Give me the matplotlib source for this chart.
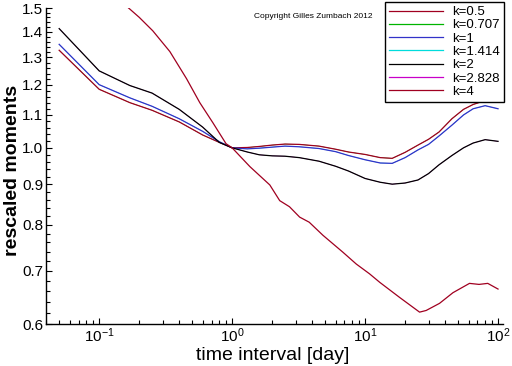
import matplotlib
matplotlib.use("Agg")
import matplotlib.pyplot as plt
from matplotlib.ticker import FixedLocator, FormatStrFormatter, LogLocator, NullFormatter
from matplotlib.lines import Line2D
import numpy as np

plt.rcParams['font.family'] = ['Liberation Sans', 'DejaVu Sans']
plt.rcParams['mathtext.fontset'] = 'custom'
plt.rcParams['mathtext.rm'] = 'Liberation Sans'
plt.rcParams['mathtext.default'] = 'regular'

# ---- data ----
x_days = [0.05, 0.1, 0.17, 0.25, 0.4, 0.6, 0.8, 1.0, 1.3, 1.6, 2.0, 2.5, 3.2, 4.5,
          6.0, 7.5, 10, 13, 16, 20, 25, 30, 36, 45, 55, 65, 80, 100]
k05 = [1.327, 1.185, 1.140, 1.115, 1.078, 1.038, 1.016, 1.000, 1.001, 1.004, 1.008, 1.011,
       1.010, 1.005, 0.996, 0.988, 0.981, 0.972, 0.970, 0.987, 1.008, 1.025, 1.047, 1.088,
       1.118, 1.134, 1.147, 1.146]
k0707 = [1.327, 1.185, 1.140, 1.115, 1.078, 1.038, 1.016, 1.000, 1.001, 1.004, 1.008, 1.011,
         1.010, 1.005, 0.996, 0.988, 0.981, 0.972, 0.970, 0.987, 1.008, 1.025, 1.047, 1.088,
         1.118, 1.134, 1.147, 1.146]
k1 = [1.350, 1.201, 1.156, 1.128, 1.088, 1.049, 1.018, 1.000, 0.997, 0.999, 1.002, 1.005,
      1.003, 0.998, 0.989, 0.978, 0.966, 0.957, 0.956, 0.972, 0.994, 1.010, 1.035, 1.068,
      1.100, 1.120, 1.130, 1.120]
k1414 = [1.350, 1.201, 1.156, 1.128, 1.088, 1.049, 1.018, 1.000, 0.997, 0.999, 1.002, 1.005,
         1.003, 0.998, 0.989, 0.978, 0.966, 0.957, 0.956, 0.972, 0.994, 1.010, 1.035, 1.068,
         1.100, 1.120, 1.130, 1.120]
k2 = [1.413, 1.250, 1.198, 1.172, 1.118, 1.062, 1.016, 1.000, 0.988, 0.980, 0.977, 0.976,
      0.972, 0.962, 0.948, 0.935, 0.915, 0.905, 0.900, 0.903, 0.911, 0.928, 0.952, 0.978,
      1.000, 1.014, 1.024, 1.019]
k2828 = [1.413, 1.250, 1.198, 1.172, 1.118, 1.062, 1.016, 1.000, 0.988, 0.980, 0.977, 0.976,
         0.972, 0.962, 0.948, 0.935, 0.915, 0.905, 0.900, 0.903, 0.911, 0.928, 0.952, 0.978,
         1.000, 1.014, 1.024, 1.019]
x_k4 = [0.05, 0.1, 0.159, 0.2, 0.253, 0.34, 0.454, 0.571, 0.715, 0.9, 1.0, 1.36, 1.92, 2.28, 2.7,
        3.22, 3.8, 4.82, 6.8, 8.58, 10.8, 12.9, 18.2, 25.7, 28.8, 36.3, 45.8, 61, 72, 83.7, 100]
k4 = [1.81, 1.62, 1.51, 1.46, 1.404, 1.322, 1.222, 1.140, 1.076, 1.012, 1.000, 0.947, 0.898, 0.858,
      0.843, 0.818, 0.806, 0.776, 0.739, 0.714, 0.694, 0.677, 0.648, 0.621, 0.624, 0.637,
      0.657, 0.675, 0.673, 0.675, 0.664]

labels = ["k=0.5", "k=0.707", "k=1", "k=1.414", "k=2", "k=2.828", "k=4"]
colors = ["#a00020", "#00b400", "#3232c8", "#00dcdc", "#000000", "#c800c8", "#a00020"]
y_ticks = [0.6, 0.7, 0.8, 0.9, 1.0, 1.1, 1.2, 1.3, 1.4, 1.5]

fig = plt.figure(figsize=(5.12, 3.66), dpi=100)
ax = fig.add_axes([46/512, 1-324/366, 457/512, 316/366])

series = [(x_days, k05), (x_days, k0707), (x_days, k1), (x_days, k1414),
          (x_days, k2), (x_days, k2828), (x_k4, k4)]
hidden = {1, 3, 5}
handles = []
for i, ((xv, yv), lab, col) in enumerate(zip(series, labels, colors)):
    if i in hidden:
        ax.plot(xv, yv, color=col, lw=0.35, label=lab, zorder=1)
    else:
        ax.plot(xv, yv, color=col, lw=0.9, label=lab, zorder=2)
    handles.append(Line2D([], [], color=col, lw=0.9, label=lab))

ax.set_xscale('log')
ax.set_yscale('log')
ax.set_xlim(0.0398, 109)
ax.set_ylim(0.6, 1.5)

ax.yaxis.set_major_locator(FixedLocator(y_ticks))
ax.yaxis.set_major_formatter(FormatStrFormatter('%.1f'))
ax.yaxis.set_minor_locator(FixedLocator(np.arange(0.6, 1.5, 0.02)))
ax.yaxis.set_minor_formatter(NullFormatter())
ax.xaxis.set_major_locator(LogLocator(base=10, numticks=10))
ax.xaxis.set_minor_locator(LogLocator(base=10, subs=np.arange(2, 10), numticks=20))
ax.xaxis.set_minor_formatter(NullFormatter())

for s in ['top', 'right']:
    ax.spines[s].set_visible(False)
for s in ['left', 'bottom']:
    ax.spines[s].set_linewidth(1.0)

ax.tick_params(which='both', direction='in', width=0.8, colors='black')
ax.tick_params(which='major', length=4.5, pad=2, labelsize=11)
ax.tick_params(which='minor', length=3)
ax.tick_params(axis='x', which='major', pad=2)

fig.text(273/512, 1-355/366, "time interval [day]", fontsize=14,
         ha='center', va='center')
fig.text(13/512, 1-170/366, "rescaled moments", fontsize=14, fontweight='bold',
         rotation=90, ha='center', va='center')

fig.text(254/512, 1-17/366, "Copyright Gilles Zumbach 2012", fontsize=6,
         ha='left', va='center')

leg = fig.legend(handles=handles, loc='upper right',
                 bbox_to_anchor=(504/512, 1-2/366), bbox_transform=fig.transFigure,
                 fontsize=9.5, frameon=True, fancybox=False, framealpha=1,
                 edgecolor='black', borderpad=0.3, labelspacing=0.08,
                 handlelength=4.1, handletextpad=0.7, borderaxespad=0)
leg.get_frame().set_linewidth(1.0)

fig.savefig("out.png", dpi=100)
